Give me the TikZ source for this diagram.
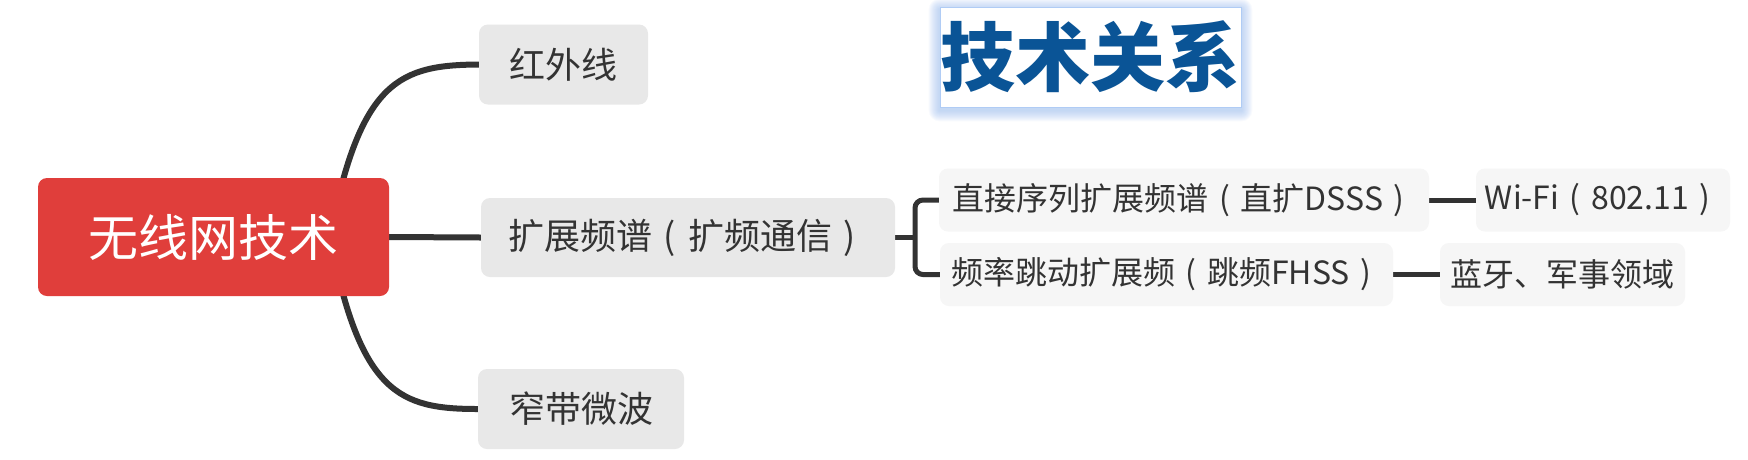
\documentclass[tikz,border=0pt]{standalone}
\usepackage{fontspec}
\setmainfont{Noto Sans CJK SC}
\usetikzlibrary{backgrounds}
\definecolor{rootred}{HTML}{E03E3B}
\definecolor{lvone}{HTML}{E8E8E8}
\definecolor{lvtwo}{HTML}{F6F6F6}
\definecolor{txt}{HTML}{333333}
\definecolor{linec}{HTML}{333333}
\definecolor{titleblue}{HTML}{0A5496}
\definecolor{glowc}{HTML}{9CBFF2}
\newcommand{\mylpar}{\makebox[1em][c]{(}}
\newcommand{\myrpar}{\makebox[1em][c]{)}}
\begin{document}
\begin{tikzpicture}[x=1pt,y=-1pt,
  rootbox/.style={fill=rootred, rounded corners=9pt, minimum width=351pt, minimum height=118pt, inner sep=0pt, text=white, font=\fontsize{50}{56}\selectfont},
  onebox/.style={fill=lvone, rounded corners=9pt, inner sep=0pt, minimum height=80pt, text=txt, font=\fontsize{36}{40}\selectfont},
  twobox/.style={fill=lvtwo, rounded corners=9pt, inner sep=0pt, minimum height=63pt, text=txt, font=\fontsize{32}{36}\selectfont},
  titlebox/.style={fill=white, draw=glowc!80, line width=0.6pt, minimum width=301pt, minimum height=100pt, inner sep=0pt, text=titleblue, font=\fontsize{75}{80}\selectfont\bfseries},
  conn/.style={draw=linec, line width=6pt},
  conntwo/.style={draw=linec, line width=5pt}]
\useasboundingbox (0,0) rectangle (1748,459);

% nodes
\node[rootbox] (root) at (213.5,237) {无线网技术};
\node[onebox, minimum width=169pt] (hw) at (563.5,64.5) {红外线};
\node[onebox, minimum width=414pt, minimum height=79pt] (kz) at (688,237.5) {扩展频谱\mylpar 扩频通信\myrpar};
\node[onebox, minimum width=206pt] (nb) at (581,409) {窄带微波};
\node[twobox, minimum width=490pt] (ds) at (1184,200) {直接序列扩展频谱\mylpar 直扩DSSS\myrpar};
\node[twobox, minimum width=453pt] (fh) at (1166.5,274.5) {频率跳动扩展频\mylpar 跳频FHSS\myrpar};
\node[twobox, minimum width=254pt] (wf) at (1603,200) {Wi-Fi\mylpar 802.11\myrpar};
\node[twobox, minimum width=245pt] (bt) at (1562.5,274.5) {蓝牙、军事领域};
\node[titlebox] (title) at (1090.5,57) {技术关系};

\coordinate (rootc) at (330,237);
\coordinate (brk) at (915,237.5);

\begin{scope}[on background layer]
  \fill[white] (0,0) rectangle (1748,459);
  \foreach \i in {1,...,11} {
    \fill[glowc, opacity=0.07, rounded corners=\i pt]
      ([xshift=-\i pt, yshift=\i pt-3pt]title.north west) rectangle ([xshift=\i pt, yshift=-\i pt-3pt]title.south east);
  }
  \draw[conn] (rootc) .. controls (360,80) and (400,65) .. (hw.west);
  \draw[conn] (rootc) .. controls (360,394) and (400,409) .. (nb.west);
  \draw[conn] (root.east) -- (kz.west);
  \draw[conntwo] (kz.east) -- (brk);
  \draw[conntwo, rounded corners=8pt] (ds.west) -| (brk) |- (fh.west);
  \draw[conntwo] (ds.east) -- (wf.west);
  \draw[conntwo] (fh.east) -- (bt.west);
\end{scope}
\end{tikzpicture}
\end{document}
